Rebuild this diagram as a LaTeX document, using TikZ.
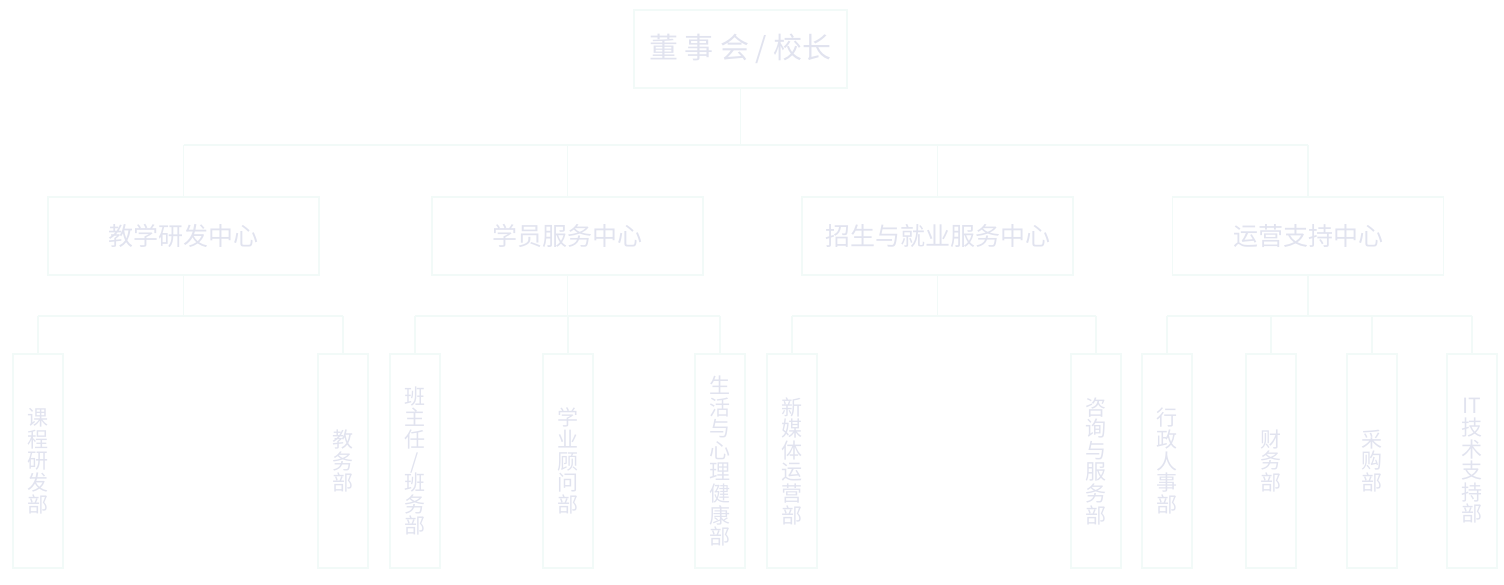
\documentclass[tikz,border=0pt]{standalone}
\usepackage{fontspec}
\newfontfamily\cjk{Noto Sans CJK SC}
\usepackage{xcolor}
\usepackage{tikz}

\definecolor{boxline}{RGB}{242,250,248}
\definecolor{boxtext}{RGB}{225,227,239}

\tikzset{
    unitbox/.style={draw=boxline, line width=1.3pt, text=boxtext, inner sep=0pt},
    headbox/.style={unitbox, minimum width=213pt, minimum height=78pt,
        font=\cjk\fontsize{29}{34}\selectfont},
    centerbox/.style={unitbox, minimum width=271pt, minimum height=78pt,
        font=\cjk\fontsize{25}{30}\selectfont},
    deptbox/.style={unitbox, minimum width=50pt, minimum height=214pt, align=center,
        font=\cjk\fontsize{21}{21.6}\selectfont},
    link/.style={draw=boxline, line width=1.3pt}
}

\begin{document}
\begin{tikzpicture}[x=1pt,y=-1pt]
        \def\top{49}
        \def\mid{236}
        \def\low{461}

        \useasboundingbox (0,0) rectangle (1504,584);

        \node[headbox] (board) at (740.5,\top) {董 事 会 / 校长};

        \node[centerbox] (teach) at (183.5,\mid) {教学研发中心};
        \node[centerbox] (stud) at (567.5,\mid) {学员服务中心};
        \node[centerbox] (enrol) at (937.5,\mid) {招生与就业服务中心};
        \node[centerbox] (oper) at (1308,\mid) {运营支持中心};

        \node[deptbox] (curr) at (38,\low) {课\\程\\研\\发\\部};
        \node[deptbox] (edu) at (343,\low) {教\\务\\部};
        \node[deptbox] (class) at (415,\low) {班\\主\\任\\/\\班\\务\\部};
        \node[deptbox] (advis) at (568,\low) {学\\业\\顾\\问\\部};
        \node[deptbox] (care) at (720,\low) {生\\活\\与\\心\\理\\健\\康\\部};
        \node[deptbox] (media) at (792,\low) {新\\媒\\体\\运\\营\\部};
        \node[deptbox] (consult) at (1096,\low) {咨\\询\\与\\服\\务\\部};
        \node[deptbox] (hr) at (1167,\low) {行\\政\\人\\事\\部};
        \node[deptbox] (fin) at (1271,\low) {财\\务\\部};
        \node[deptbox] (buy) at (1372,\low) {采\\购\\部};
        \node[deptbox] (it) at (1472,\low) {IT\\技\\术\\支\\持\\部};

        % board to centers
        \coordinate (busA) at (0,145);
        \draw[link] (board.south) -- (board.south |- busA);
        \draw[link] (teach.north |- busA) -- (oper.north |- busA);
        \foreach \c in {teach,stud,enrol,oper}
            \draw[link] (\c.north) -- (\c.north |- busA);

        % centers to departments
        \coordinate (busB) at (0,316);
        \foreach \c/\first/\last in {teach/curr/edu, stud/class/care, enrol/media/consult, oper/hr/it} {
            \draw[link] (\c.south) -- (\c.south |- busB);
            \draw[link] (\first.north |- busB) -- (\last.north |- busB);
        }
        \foreach \d in {curr,edu,class,advis,care,media,consult,hr,fin,buy,it}
            \draw[link] (\d.north) -- (\d.north |- busB);
\end{tikzpicture}
\end{document}
